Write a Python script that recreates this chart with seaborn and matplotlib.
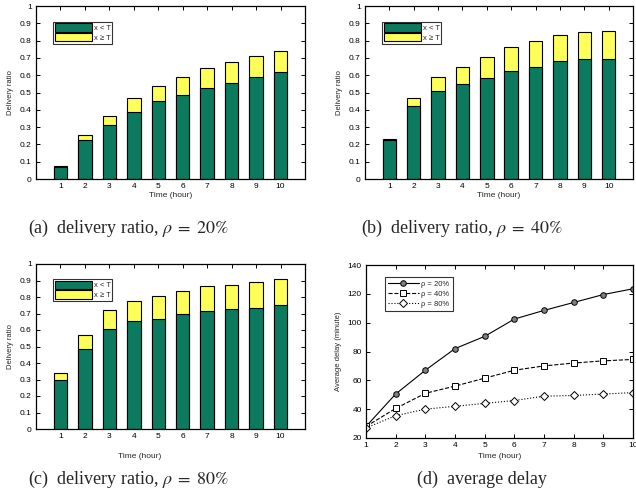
import matplotlib
matplotlib.use("Agg")
import matplotlib.pyplot as plt
import seaborn as sns
import pandas as pd
from matplotlib.patches import Patch
from matplotlib.lines import Line2D

hours = [1, 2, 3, 4, 5, 6, 7, 8, 9, 10]

# panel (a) rho = 20%
a_total = [0.075, 0.253, 0.365, 0.470, 0.540, 0.587, 0.640, 0.675, 0.712, 0.742]
a_below = [0.070, 0.225, 0.310, 0.385, 0.453, 0.483, 0.528, 0.557, 0.592, 0.617]
# panel (b) rho = 40%
b_total = [0.233, 0.470, 0.587, 0.650, 0.705, 0.765, 0.795, 0.832, 0.848, 0.853]
b_below = [0.223, 0.420, 0.510, 0.548, 0.585, 0.625, 0.650, 0.683, 0.692, 0.695]
# panel (c) rho = 80%
c_total = [0.340, 0.570, 0.722, 0.778, 0.805, 0.835, 0.865, 0.875, 0.892, 0.908]
c_below = [0.300, 0.485, 0.607, 0.652, 0.668, 0.695, 0.718, 0.727, 0.735, 0.753]

# panel (d) average delay (minute)
delay_20 = [28, 50.5, 67, 82, 90.5, 102.5, 108.5, 114, 119.5, 123.5]
delay_40 = [28, 40.5, 51, 56, 61.5, 67, 70, 72, 73.5, 74.5]
delay_80 = [27, 35.5, 40, 42, 44, 46, 49, 49.5, 50.5, 51.5]

captions = ["(a)  delivery ratio, $\\rho\\;=\\;20\\%$", "(b)  delivery ratio, $\\rho\\;=\\;40\\%$",
            "(c)  delivery ratio, $\\rho\\;=\\;80\\%$", "(d)  average delay"]
legend_bar = ["x < T", "x \u2265 T"]
legend_line = ["\u03c1 = 20%", "\u03c1 = 40%", "\u03c1 = 80%"]

GREEN = "#0b7a5f"
YELLOW = "#ffff5a"

sns.set_style("white")
plt.rcParams["font.family"] = ["Liberation Sans", "DejaVu Sans"]
plt.rcParams["mathtext.fontset"] = "stix"

W, H = 636, 495
fig = plt.figure(figsize=(W / 100, H / 100), dpi=100)


def ax_at(l, t, r, b):
    return fig.add_axes([l / W, 1 - b / H, (r - l) / W, (b - t) / H])


def style(ax):
    ax.tick_params(direction="in", length=3, width=0.7, labelsize=6, pad=3,
                   top=True, right=True, bottom=True, left=True, colors="black")
    for s in ax.spines.values():
        s.set_visible(True)
        s.set_color("black")
        s.set_linewidth(0.9)


def bars(ax, total, below, show_xlabel=True):
    df = pd.DataFrame({"hour": hours, "total": total, "below": below})
    sns.barplot(data=df, x="hour", y="total", native_scale=True, width=0.55,
                color=YELLOW, saturation=1, edgecolor="black", linewidth=0.8, ax=ax)
    sns.barplot(data=df, x="hour", y="below", native_scale=True, width=0.55,
                color=GREEN, saturation=1, edgecolor="black", linewidth=0.8, ax=ax)
    ax.set_xlim(0, 11)
    ax.set_ylim(0, 1)
    ax.set_xticks(hours)
    ax.set_xticklabels([str(h) for h in hours])
    ax.set_yticks([i / 10 for i in range(11)])
    ax.set_yticklabels(["0"] + [f"0.{i}" for i in range(1, 10)] + ["1"])
    ax.set_xlabel("Time (hour)" if show_xlabel else "", fontsize=6, labelpad=1)
    ax.set_ylabel("Delivery ratio", fontsize=5.5, labelpad=4)
    style(ax)
    handles = [Patch(facecolor=GREEN, edgecolor="black", linewidth=0.8),
               Patch(facecolor=YELLOW, edgecolor="black", linewidth=0.8)]
    leg = ax.legend(handles, legend_bar, loc="upper left", bbox_to_anchor=(0.065, 0.91),
                    fontsize=5.5, frameon=True, fancybox=False, edgecolor="black",
                    handlelength=4.8, handleheight=1.3, handletextpad=0.2,
                    borderpad=0.25, labelspacing=0.1, borderaxespad=0)
    leg.get_frame().set_linewidth(0.8)


ax1 = ax_at(36, 6, 305, 179)
bars(ax1, a_total, a_below)
ax2 = ax_at(365, 6, 633, 179)
bars(ax2, b_total, b_below)
ax3 = ax_at(36, 264, 305, 429)
bars(ax3, c_total, c_below, show_xlabel=False)
fig.text(140 / W, 1 - 456 / H, "Time (hour)", fontsize=6, ha="center", va="center")

ax4 = ax_at(366, 265, 633, 438)
dfl = pd.DataFrame({
    "hour": hours * 3,
    "delay": delay_20 + delay_40 + delay_80,
    "rho": [legend_line[0]] * 10 + [legend_line[1]] * 10 + [legend_line[2]] * 10,
})
specs = [("o", "#808080", "-"), ("s", "white", "--"), ("D", "white", ":")]
for name, (mk, fc, ls) in zip(legend_line, specs):
    sub = dfl[dfl["rho"] == name]
    sns.lineplot(data=sub, x="hour", y="delay", ax=ax4, color="black", linewidth=0.8,
                 linestyle=ls, marker=mk, markersize=4, markerfacecolor=fc,
                 markeredgecolor="black", markeredgewidth=0.7, legend=False)
ax4.set_xlim(1, 10)
ax4.set_ylim(20, 140)
ax4.set_xticks(hours)
ax4.set_yticks(range(20, 141, 20))
ax4.set_xlabel("")
ax4.set_ylabel("Average delay (minute)", fontsize=5.5, labelpad=4)
style(ax4)
fig.text(500 / W, 1 - 456 / H, "Time (hour)", fontsize=6, ha="center", va="center")
lh = [Line2D([], [], color="black", lw=0.8, ls=s[2], marker=s[0], markersize=4,
             markerfacecolor=s[1], markeredgecolor="black", markeredgewidth=0.7) for s in specs]
leg = ax4.legend(lh, legend_line, loc="upper left", bbox_to_anchor=(0.07, 0.93),
                 fontsize=5.5, frameon=True, fancybox=False, edgecolor="black",
                 handlelength=4.0, handletextpad=0.3, borderpad=0.45,
                 labelspacing=0.35, borderaxespad=0)
leg.get_frame().set_linewidth(0.8)

cap_font = dict(fontsize=13, family=["Liberation Serif", "DejaVu Serif"], va="center", ha="center")
fig.text(128 / W, 1 - 228 / H, captions[0], **cap_font)
fig.text(462 / W, 1 - 228 / H, captions[1], **cap_font)
fig.text(128 / W, 1 - 479 / H, captions[2], **cap_font)
fig.text(482 / W, 1 - 479 / H, captions[3], **cap_font)

fig.savefig("out.png", dpi=100)
